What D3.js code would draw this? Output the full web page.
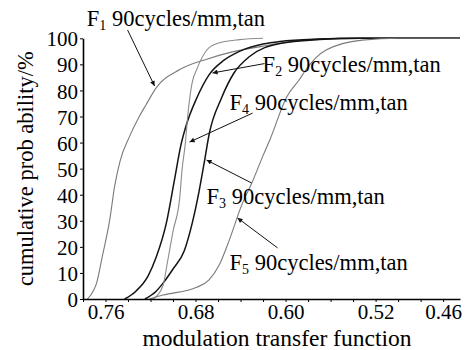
<!DOCTYPE html>
<html>
<head>
<meta charset="utf-8">
<script src="https://cdn.jsdelivr.net/npm/d3@7"></script>
<style>
  body { margin: 0; background: #fff; }
  svg { display: block; }
  text { font-family: "Liberation Serif", "DejaVu Serif", serif; }
</style>
</head>
<body>
<svg id="svg" width="465" height="350"></svg>
<script>
// MTF value (x) and cumulative probability in % (y)
const f1 = [[0.776, 0], [0.771, 3], [0.768, 6], [0.763, 16], [0.756, 31], [0.752, 43], [0.747, 53],
    [0.739, 62], [0.730, 70], [0.724, 74.5], [0.715, 81], [0.694, 88], [0.670, 92], [0.650, 94.5],
    [0.620, 97], [0.590, 99], [0.555, 100], [0.445, 100]]
const f2 = [[0.743, 0], [0.733, 3], [0.722, 9], [0.715, 16], [0.706, 29], [0.699, 45], [0.693, 59],
    [0.688, 67], [0.679, 77], [0.668, 86], [0.655, 91.5], [0.641, 95], [0.620, 97.8], [0.605, 98.8],
    [0.570, 99.7], [0.534, 100], [0.445, 100]]
const f3 = [[0.725, 0], [0.715, 3], [0.709, 6], [0.700, 11.5], [0.690, 18.5], [0.683, 29], [0.677, 41],
    [0.672, 53], [0.668, 63], [0.657, 77], [0.646, 86.6], [0.632, 93], [0.605, 98], [0.570, 99.5],
    [0.534, 100], [0.445, 100]]
const f4 = [[0.718, 0], [0.709, 5], [0.705, 14], [0.700, 26], [0.694, 39], [0.692, 49.5], [0.689, 60],
    [0.687, 70], [0.683, 83], [0.679, 88], [0.670, 95.5], [0.661, 98], [0.641, 99.5], [0.620, 100]]
const f5 = [[0.721, 0], [0.709, 1.5], [0.679, 4.5], [0.668, 7.3], [0.659, 13], [0.650, 22.6], [0.639, 36],
    [0.630, 44.5], [0.620, 55], [0.614, 61], [0.599, 77.5], [0.588, 84], [0.581, 88.5], [0.564, 95.5],
    [0.532, 99.3], [0.499, 100], [0.445, 100]]

const seriesNames = ['F1', 'F2', 'F3', 'F4', 'F5']
const seriesData = [f1, f2, f3, f4, f5]

const xTickValues = [0.78, 0.76, 0.74, 0.72, 0.70, 0.68, 0.66, 0.64, 0.62, 0.60, 0.58, 0.56, 0.54, 0.52, 0.50, 0.48, 0.46]
const xLabelled = [0.76, 0.68, 0.60, 0.52, 0.46]
const yTickValues = [0, 10, 20, 30, 40, 50, 60, 70, 80, 90, 100]

// label anchor, arrow start and arrow tip, in data units
const labelText = ' 90cycles/mm,tan'
const labelAt = [[0.7766, 104.8], [0.6204, 87.1], [0.6702, 36.6], [0.6498, 72.5], [0.6498, 11.1]]
const arrowFrom = [[0.7404, 103.2], [0.6187, 90.3], [0.6302, 44.5], [0.6293, 71.3], [0.6071, 19.6]]
const arrowTo = [[0.7164, 81.7], [0.6649, 86.7], [0.6702, 53.3], [0.6853, 60.2], [0.6427, 31.1]]

const svg = d3.select('#svg')
const width = +svg.attr('width')
const height = +svg.attr('height')

const margin = { top: 38, right: 5, bottom: 51, left: 83 }

const xScale = d3.scaleLinear()
    .domain([0.78, 0.445])
    .range([margin.left, width - margin.right])

const yScale = d3.scaleLinear()
    .domain([0, 100])
    .range([height - margin.bottom, margin.top + 0.3])

svg.append('rect').attr('width', width).attr('height', height).attr('fill', '#fff')

// arrow head
svg.append('defs').append('marker')
    .attr('id', 'arrow')
    .attr('viewBox', '0 0 10 10')
    .attr('refX', 10).attr('refY', 5)
    .attr('markerWidth', 9).attr('markerHeight', 5)
    .attr('markerUnits', 'userSpaceOnUse')
    .attr('orient', 'auto')
    .append('path').attr('d', 'M0,0L10,5L0,10Z').attr('fill', '#111')

const colors = ['#7a7a7a', '#141414', '#141414', '#8c8c8c', '#7a7a7a']
const widths = [1.1, 1.5, 1.5, 1.1, 1.1]

const line = d3.line()
    .x(d => xScale(d[0]))
    .y(d => yScale(d[1]))
    .curve(d3.curveMonotoneX)

seriesData.forEach((s, i) => {
    svg.append('path')
        .datum(s)
        .attr('d', line)
        .attr('fill', 'none')
        .attr('stroke', colors[i])
        .attr('stroke-width', widths[i])
})

// axes
const xAxis = d3.axisBottom(xScale)
    .tickValues(xTickValues)
    .tickSize(3)
    .tickSizeOuter(0)
    .tickPadding(2)
    .tickFormat(d3.format('.2f'))

const yAxis = d3.axisLeft(yScale)
    .tickValues(yTickValues)
    .tickSize(3)
    .tickSizeOuter(0)
    .tickPadding(2)

const gx = svg.append('g')
    .attr('transform', `translate(0, ${yScale(0)})`)
    .call(xAxis)
const gy = svg.append('g')
    .attr('transform', `translate(${margin.left}, 0)`)
    .call(yAxis)

// only some x ticks carry a label
gx.selectAll('.tick')
    .filter(d => !xLabelled.some(v => Math.abs(v - d) < 1e-6))
    .select('text').remove()

;[gx, gy].forEach(g => {
    g.select('.domain').attr('stroke', '#000').attr('stroke-width', 1.6)
    g.selectAll('.tick line').attr('stroke', '#000').attr('stroke-width', 1)
    g.selectAll('.tick text')
        .attr('fill', '#000')
        .attr('font-family', '"Liberation Serif", serif')
        .attr('font-size', 21)
})
gy.selectAll('.tick text').attr('dy', '0.36em')

// axis titles
svg.append('text')
    .attr('x', 277)
    .attr('y', height - 4)
    .attr('text-anchor', 'middle')
    .attr('font-size', 23.5)
    .text('modulation transfer function')

svg.append('text')
    .attr('transform', `translate(33, ${(yScale(0) + yScale(100)) / 2}) rotate(-90)`)
    .attr('text-anchor', 'middle')
    .attr('font-size', 22.5)
    .text('cumulative prob ability/%')

// labels with arrows
seriesNames.forEach((name, i) => {
    svg.append('line')
        .attr('x1', xScale(arrowFrom[i][0])).attr('y1', yScale(arrowFrom[i][1]))
        .attr('x2', xScale(arrowTo[i][0])).attr('y2', yScale(arrowTo[i][1]))
        .attr('stroke', '#111')
        .attr('stroke-width', 1)
        .attr('marker-end', 'url(#arrow)')

    const t = svg.append('text')
        .attr('x', xScale(labelAt[i][0]))
        .attr('y', yScale(labelAt[i][1]))
        .attr('font-size', 22.5)
        .attr('fill', '#000')
    t.append('tspan').text(name[0])
    t.append('tspan').attr('font-size', 14).attr('dy', 4).text(name[1])
    t.append('tspan').attr('dy', -4).text(labelText)
})
</script>
</body>
</html>
